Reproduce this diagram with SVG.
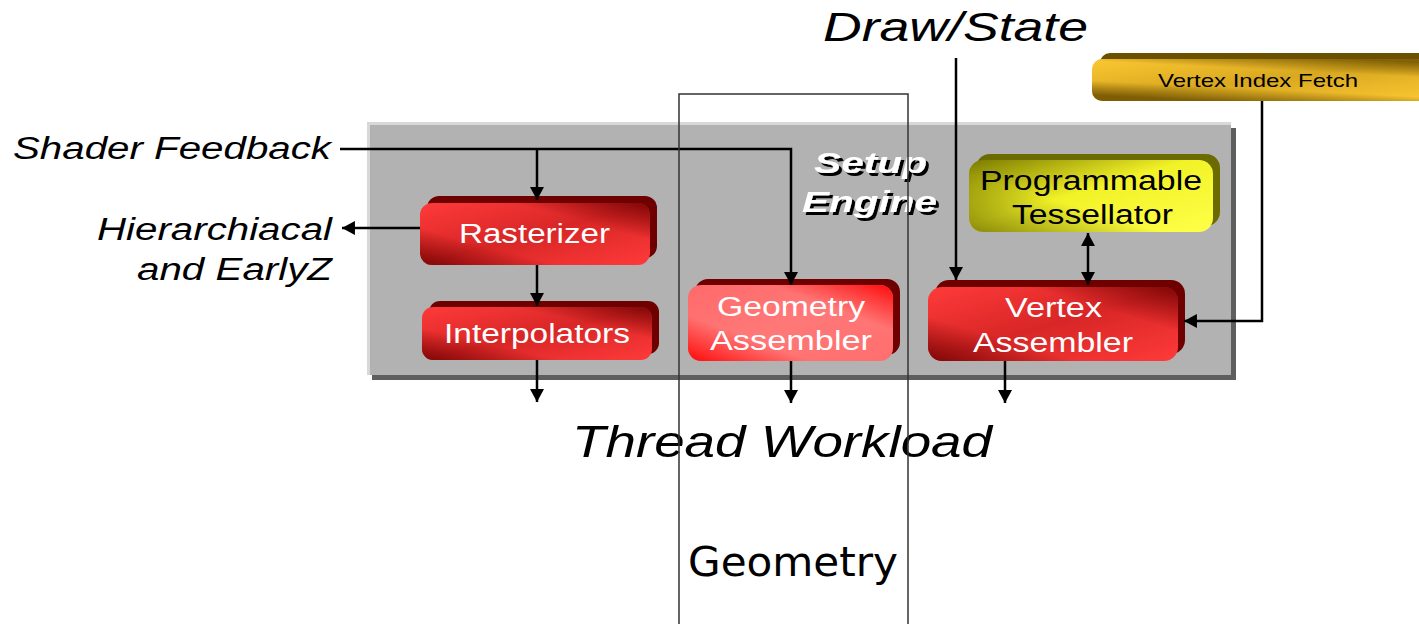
<svg xmlns="http://www.w3.org/2000/svg" width="1419" height="624" viewBox="0 0 1419 624">
<style>
.lbl{font-family:"Liberation Sans",Arial,sans-serif;font-style:italic;fill:#000}
.nt{font-family:"Liberation Sans",Arial,sans-serif;font-size:27px;fill:#fff}
.yt{font-family:"Liberation Sans",Arial,sans-serif;font-size:27px;fill:#000}
.conn{stroke:#000;stroke-width:2.5;fill:none}
.se{font-family:"Liberation Sans",Arial,sans-serif;font-size:30px;font-weight:bold;font-style:italic;fill:#fff;filter:url(#shadow)}
</style>
<defs>
<filter id="shadow" x="-10%" y="-20%" width="130%" height="150%">
<feDropShadow dx="3" dy="3" stdDeviation="0.3" flood-color="#000" flood-opacity="1"/>
</filter>
<marker id="ah" markerUnits="userSpaceOnUse" markerWidth="14" markerHeight="14" refX="12" refY="6.5" orient="auto-start-reverse" viewBox="0 0 13 13">
<path d="M0,0 L12,6.5 L0,13 z" fill="#000"/>
</marker>
<linearGradient id="redA" x1="0" y1="0" x2="1" y2="1">
<stop offset="0" stop-color="#ff3a3a"/><stop offset="0.5" stop-color="#d82626"/><stop offset="1" stop-color="#ff3a3a"/>
</linearGradient>
<linearGradient id="redB" x1="1" y1="0" x2="0" y2="1">
<stop offset="0" stop-color="#700000" stop-opacity="0.85"/><stop offset="0.3" stop-color="#700000" stop-opacity="0"/><stop offset="0.7" stop-color="#700000" stop-opacity="0"/><stop offset="1" stop-color="#700000" stop-opacity="0.85"/>
</linearGradient>
<linearGradient id="pinkA" x1="0" y1="0" x2="1" y2="1">
<stop offset="0" stop-color="#ff6a6a"/><stop offset="0.5" stop-color="#ff7878"/><stop offset="1" stop-color="#ff6e6e"/>
</linearGradient>
<linearGradient id="pinkB" x1="1" y1="0" x2="0" y2="1">
<stop offset="0" stop-color="#ff0a0a"/><stop offset="0.3" stop-color="#ff0a0a" stop-opacity="0"/><stop offset="0.7" stop-color="#ff0a0a" stop-opacity="0"/><stop offset="1" stop-color="#ff0a0a"/>
</linearGradient>
<linearGradient id="yelA" x1="0" y1="0" x2="1" y2="1">
<stop offset="0" stop-color="#7a7a00"/><stop offset="0.45" stop-color="#f2f228"/><stop offset="1" stop-color="#ffff48"/>
</linearGradient>
<linearGradient id="yelB" x1="1" y1="0" x2="0" y2="1">
<stop offset="0.6" stop-color="#6e6e00" stop-opacity="0"/><stop offset="1" stop-color="#6e6e00" stop-opacity="0.8"/>
</linearGradient>
<linearGradient id="goldA" x1="0" y1="0" x2="1" y2="1">
<stop offset="0" stop-color="#fcc832"/><stop offset="0.5" stop-color="#d8a820"/><stop offset="1" stop-color="#fcc832"/>
</linearGradient>
<linearGradient id="goldB" x1="0.75" y1="0" x2="0.35" y2="1">
<stop offset="0" stop-color="#6e5000" stop-opacity="0.8"/><stop offset="0.3" stop-color="#6e5000" stop-opacity="0"/><stop offset="0.7" stop-color="#6e5000" stop-opacity="0"/><stop offset="1" stop-color="#6e5000" stop-opacity="0.85"/>
</linearGradient>
</defs>

<g id="setup-engine-panel">
<rect x="372" y="128" width="864" height="252" fill="#5e5e5e"/>
<rect x="367" y="122" width="864" height="253" fill="#d8d8d8"/>
<rect x="370" y="125" width="861" height="250" fill="#b2b2b2"/>
<text class="se" x="814" y="173" textLength="113" lengthAdjust="spacingAndGlyphs">Setup</text>
<text class="se" x="802" y="212" textLength="135" lengthAdjust="spacingAndGlyphs">Engine</text>
</g>

<g id="vertex-index-fetch">
<rect x="1100" y="53" width="340" height="42" rx="10" fill="#6b5000"/>
<rect x="1092" y="59" width="340" height="42" rx="10" fill="url(#goldA)"/>
<rect x="1092" y="59" width="340" height="42" rx="10" fill="url(#goldB)"/>
<text x="1158" y="87" font-family="Liberation Sans, Arial, sans-serif" font-size="19" fill="#000" textLength="200" lengthAdjust="spacingAndGlyphs">Vertex Index Fetch</text>
</g>

<g id="rasterizer">
<rect x="427" y="196" width="230" height="62" rx="12" fill="#6e0000"/>
<rect x="420" y="203" width="230" height="62" rx="12" fill="url(#redA)"/>
<rect x="420" y="203" width="230" height="62" rx="12" fill="url(#redB)"/>
<text class="nt" x="459" y="243" textLength="151" lengthAdjust="spacingAndGlyphs">Rasterizer</text>
</g>

<g id="interpolators">
<rect x="429" y="301" width="230" height="53" rx="11" fill="#6e0000"/>
<rect x="422" y="307" width="230" height="53" rx="11" fill="url(#redA)"/>
<rect x="422" y="307" width="230" height="53" rx="11" fill="url(#redB)"/>
<text class="nt" x="444" y="343" textLength="186" lengthAdjust="spacingAndGlyphs">Interpolators</text>
</g>

<g id="geometry-assembler">
<rect x="695" y="279" width="205" height="76" rx="13" fill="#6e0000"/>
<rect x="688" y="285" width="205" height="76" rx="13" fill="url(#pinkA)"/>
<rect x="688" y="285" width="205" height="76" rx="13" fill="url(#pinkB)"/>
<text class="nt" x="717" y="316" textLength="148" lengthAdjust="spacingAndGlyphs">Geometry</text>
<text class="nt" x="710" y="350" textLength="162" lengthAdjust="spacingAndGlyphs">Assembler</text>
</g>

<g id="programmable-tessellator">
<rect x="976" y="154" width="244" height="72" rx="14" fill="#6b6b00"/>
<rect x="969" y="160" width="244" height="72" rx="14" fill="url(#yelA)"/>
<rect x="969" y="160" width="244" height="72" rx="14" fill="url(#yelB)"/>
<text class="yt" x="980" y="190" textLength="222" lengthAdjust="spacingAndGlyphs">Programmable</text>
<text class="yt" x="1012" y="224" textLength="161" lengthAdjust="spacingAndGlyphs">Tessellator</text>
</g>

<g id="vertex-assembler">
<rect x="935" y="280" width="250" height="74" rx="14" fill="#6e0000"/>
<rect x="928" y="287" width="250" height="74" rx="14" fill="url(#redA)"/>
<rect x="928" y="287" width="250" height="74" rx="14" fill="url(#redB)"/>
<text class="nt" x="1005" y="317" textLength="97" lengthAdjust="spacingAndGlyphs">Vertex</text>
<text class="nt" x="973" y="352" textLength="160" lengthAdjust="spacingAndGlyphs">Assembler</text>
</g>

<g id="connectors">
<path class="conn" d="M340,149 H791 V285" marker-end="url(#ah)"/>
<path class="conn" d="M537,149 V200" marker-end="url(#ah)"/>
<path class="conn" d="M420,228 H342" marker-end="url(#ah)"/>
<path class="conn" d="M537,265 V306" marker-end="url(#ah)"/>
<path class="conn" d="M537,360 V402" marker-end="url(#ah)"/>
<path class="conn" d="M791,361 V403" marker-end="url(#ah)"/>
<path class="conn" d="M1005,361 V403" marker-end="url(#ah)"/>
<path class="conn" d="M956,58 V280" marker-end="url(#ah)"/>
<path class="conn" d="M1088,233 V285" marker-start="url(#ah)" marker-end="url(#ah)"/>
<path class="conn" d="M1262,101 V321 H1184" marker-end="url(#ah)"/>
</g>

<g id="labels">
<text class="lbl" x="823" y="41" font-size="40" textLength="265" lengthAdjust="spacingAndGlyphs">Draw/State</text>
<text class="lbl" x="13" y="159" font-size="31" textLength="318" lengthAdjust="spacingAndGlyphs">Shader Feedback</text>
<text class="lbl" x="97" y="240" font-size="31" textLength="235" lengthAdjust="spacingAndGlyphs">Hierarchiacal</text>
<text class="lbl" x="137" y="280" font-size="31" textLength="195" lengthAdjust="spacingAndGlyphs">and EarlyZ</text>
<text class="lbl" x="572" y="457" font-size="44" textLength="420" lengthAdjust="spacingAndGlyphs">Thread Workload</text>
</g>

<g id="geometry-frame">
<rect x="679" y="94" width="229" height="560" fill="none" stroke="#333" stroke-width="1.5"/>
<text x="688" y="576" font-family="DejaVu Sans, Verdana, sans-serif" font-size="41" fill="#000" textLength="210" lengthAdjust="spacingAndGlyphs">Geometry</text>
</g>
</svg>
